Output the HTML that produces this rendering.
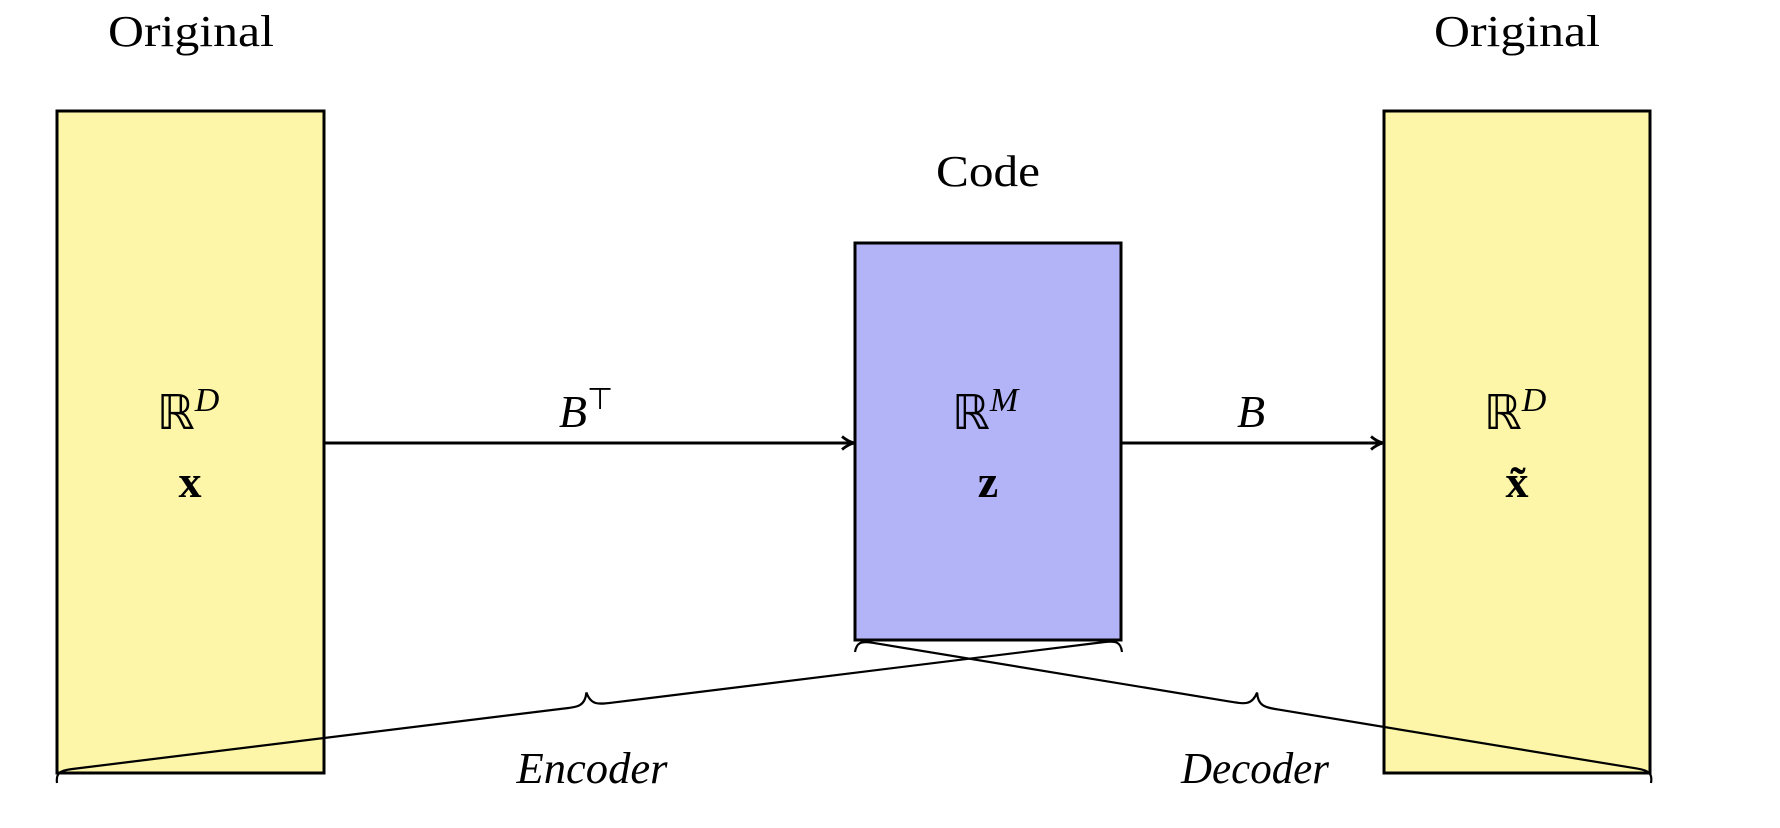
<!DOCTYPE html>
<html><head><meta charset="utf-8"><style>
html,body{margin:0;padding:0;background:#fff;}
svg{display:block;}
text{font-family:"Liberation Serif",serif;fill:#000;}
</style></head><body>
<svg id="chart" width="1780" height="828" viewBox="0 0 1780 828" xmlns="http://www.w3.org/2000/svg">
<defs><marker id="ah" markerWidth="16" markerHeight="16" refX="13" refY="8" orient="auto" markerUnits="userSpaceOnUse"><path d="M2,1.5 Q8,6.5 14,8 Q8,9.5 2,14.5" fill="none" stroke="#000" stroke-width="2.8"/></marker></defs>
<text x="191" y="46" font-size="44" text-anchor="middle" textLength="166" lengthAdjust="spacingAndGlyphs">Original</text>
<text x="1517" y="46" font-size="44" text-anchor="middle" textLength="166" lengthAdjust="spacingAndGlyphs">Original</text>
<text x="988" y="186" font-size="44" text-anchor="middle" textLength="104" lengthAdjust="spacingAndGlyphs">Code</text>
<rect x="57" y="111" width="267" height="662" fill="#fdf6a8" stroke="#000" stroke-width="3"/>
<rect x="855" y="243" width="266" height="397" fill="#b3b3f7" stroke="#000" stroke-width="3"/>
<rect x="1384" y="111" width="266" height="662" fill="#fdf6a8" stroke="#000" stroke-width="3"/>
<line x1="324" y1="443" x2="853" y2="443" stroke="#000" stroke-width="3" marker-end="url(#ah)"/>
<line x1="1121" y1="443" x2="1382" y2="443" stroke="#000" stroke-width="3" marker-end="url(#ah)"/>
<text x="188" y="429" font-size="48" text-anchor="middle">ℝ<tspan font-style="italic" font-size="34" dy="-18">D</tspan></text>
<text x="190" y="497" font-size="46" font-weight="bold" text-anchor="middle">x</text>
<text x="985" y="429" font-size="48" text-anchor="middle">ℝ<tspan font-style="italic" font-size="34" dy="-18">M</tspan></text>
<text x="988" y="497" font-size="46" font-weight="bold" text-anchor="middle">z</text>
<text x="1515" y="429" font-size="48" text-anchor="middle">ℝ<tspan font-style="italic" font-size="34" dy="-18">D</tspan></text>
<text x="1517" y="497" font-size="46" font-weight="bold" text-anchor="middle">x̃</text>
<text x="586" y="427" font-size="46" font-style="italic" text-anchor="middle">B<tspan font-style="normal" font-size="30" dy="-18">⊤</tspan></text>
<text x="1251" y="427" font-size="46" font-style="italic" text-anchor="middle">B</text>
<path id="brace-enc" fill="none" stroke="#000" stroke-width="2.2"/>
<path id="brace-dec" fill="none" stroke="#000" stroke-width="2.2"/>
<text x="592" y="783" font-size="44" font-style="italic" text-anchor="middle" textLength="151" lengthAdjust="spacingAndGlyphs">Encoder</text>
<text x="1255" y="783" font-size="44" font-style="italic" text-anchor="middle" textLength="148" lengthAdjust="spacingAndGlyphs">Decoder</text>
</svg>
<script>
function brace(p1,p2,a){
  var dx=p2[0]-p1[0],dy=p2[1]-p1[1],L=Math.hypot(dx,dy);
  var ux=dx/L,uy=dy/L,nx=uy,ny=-ux;
  function P(s,t){return (p1[0]+ux*s+nx*t).toFixed(1)+','+(p1[1]+uy*s+ny*t).toFixed(1);}
  var m=L/2;
  return 'M'+P(0,0)+' C'+P(0,a*0.8)+' '+P(4,a)+' '+P(16,a)+
    ' L'+P(m-24,a)+' C'+P(m-10,a)+' '+P(m-3,a)+' '+P(m,a*2.1)+
    ' C'+P(m+3,a)+' '+P(m+10,a)+' '+P(m+24,a)+
    ' L'+P(L-16,a)+' C'+P(L-4,a)+' '+P(L,a*0.8)+' '+P(L,0);
}
document.getElementById('brace-enc').setAttribute('d',brace([57,783],[1122,652],12));
document.getElementById('brace-dec').setAttribute('d',brace([855,652],[1651,783],12));
</script>
</body></html>
